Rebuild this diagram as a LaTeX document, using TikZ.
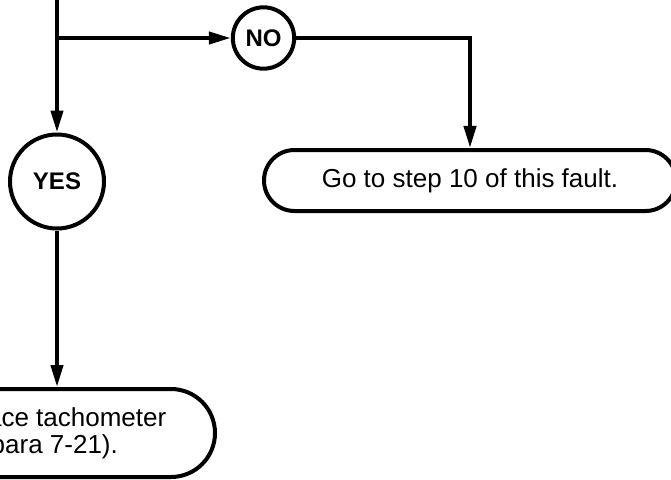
\documentclass[tikz,border=0pt]{standalone}
\usepackage{fontspec}
\setmainfont{Liberation Sans}
\usetikzlibrary{arrows.meta}
\usetikzlibrary{shapes.misc}

\begin{document}
\begin{tikzpicture}[x=0.75pt, y=-0.75pt, line width=3pt,
    arr/.style={-{Triangle[length=16.5pt, width=9pt]}},
    answer/.style={circle, draw, line width=3pt, inner sep=0pt,
        font=\fontsize{18}{20}\selectfont\bfseries},
    action/.style={rounded rectangle, draw, line width=3pt, inner sep=0pt,
        align=center, font=\fontsize{19.5}{20.5}\selectfont}]
\useasboundingbox (0,0) rectangle (671,479);
\clip (0,0) rectangle (671,479);

\coordinate (top) at (57,0);
\coordinate (split) at (57,38);

\node[answer, minimum size=46pt] (no) at (263.5,38) {NO};
\node[answer, minimum size=70.5pt] (yes) at (57,181.5) {YES};

\node[action, minimum width=309pt, minimum height=45.75pt] (go) at (470,180.5)
    {Go to step 10 of this fault.};
\node[action, minimum width=247.5pt, minimum height=66pt] (repl) at (50,433)
    {Replace tachometer\\(para 7-21).};

\draw (top) -- (split);
\draw[arr] (split) -- (yes);
\draw[arr] (split) -- (no);
\draw[arr] (no) -| (go);
\draw[arr] (yes.south) -- (yes.south |- repl.north);
\end{tikzpicture}
\end{document}
